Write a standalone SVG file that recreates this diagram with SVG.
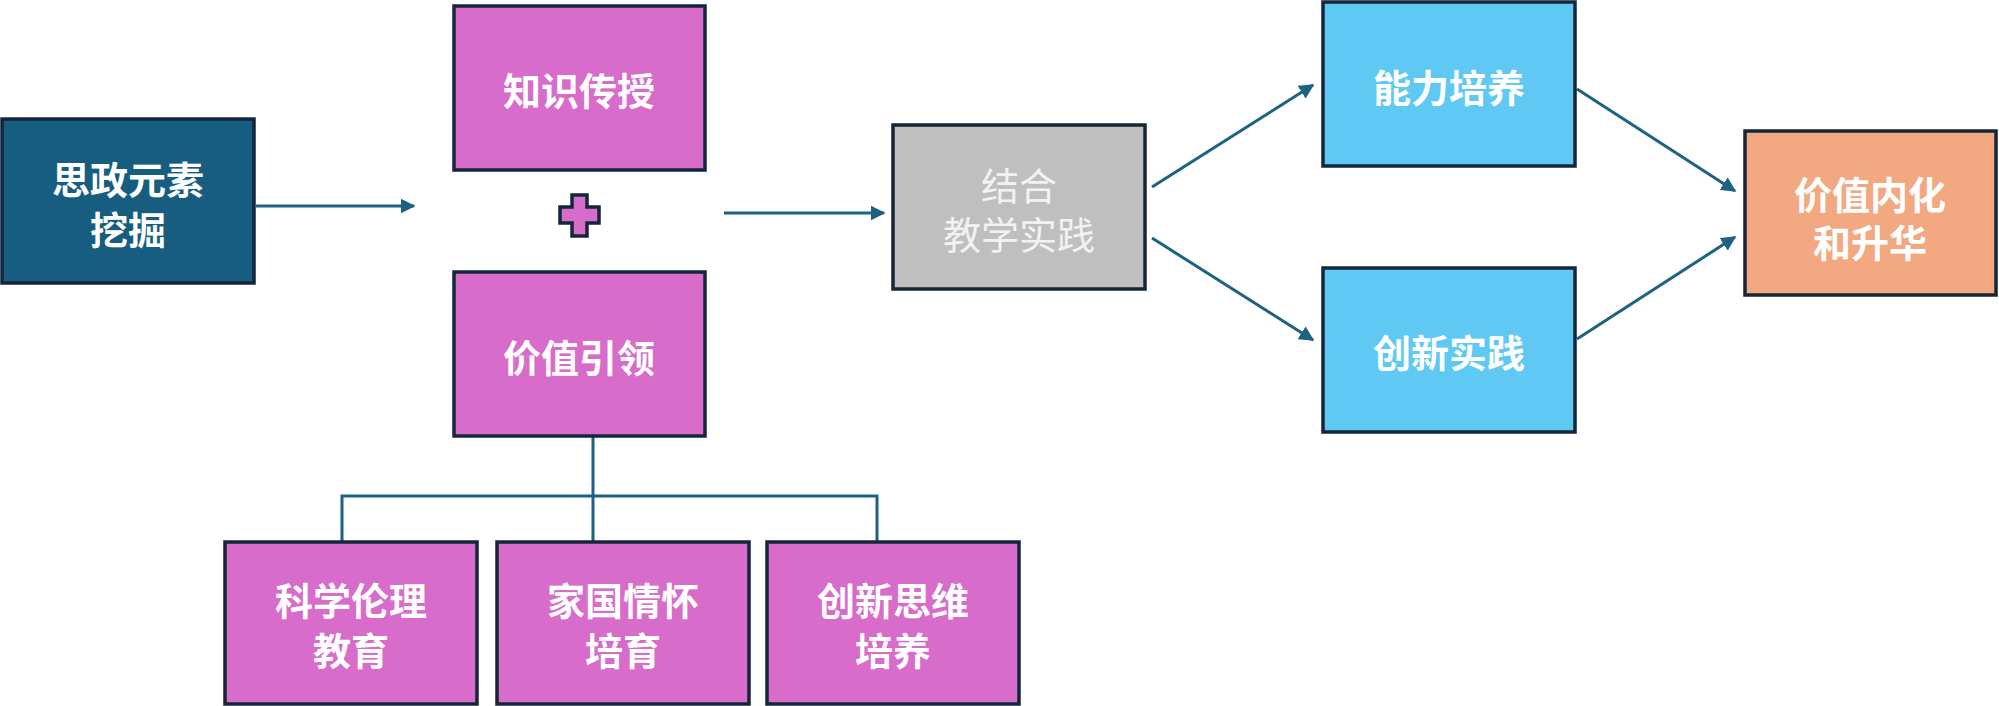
<svg xmlns="http://www.w3.org/2000/svg" width="1999" height="706" viewBox="0 0 1999 706">
<defs>
<style>
.box{stroke:#13263a;stroke-width:3.5}
.t{font-family:"Noto Sans CJK SC","Noto Sans",sans-serif;font-size:38px;font-weight:bold;fill:#ffffff;text-anchor:middle;dominant-baseline:central}
.tl{font-weight:normal;fill:#f2f2f2}
.c{stroke:#1d6283;stroke-width:3;fill:none}
.purple{fill:#d76ccb}
.blue{fill:#60c9f3}
</style>
<marker id="ah" viewBox="0 0 10 10" refX="9" refY="5" markerWidth="5" markerHeight="5" orient="auto" markerUnits="strokeWidth">
<path d="M0,0 L10,5 L0,10 z" fill="#1d6283"/>
</marker>
</defs>
<rect width="1999" height="706" fill="#ffffff"/>
<g id="connectors">
<line class="c" x1="256" y1="206" x2="414" y2="206" marker-end="url(#ah)"/>
<line class="c" x1="724" y1="213" x2="884" y2="213" marker-end="url(#ah)"/>
<line class="c" x1="1152" y1="187" x2="1313" y2="85" marker-end="url(#ah)"/>
<line class="c" x1="1152" y1="238" x2="1313" y2="340" marker-end="url(#ah)"/>
<line class="c" x1="1577" y1="89" x2="1735" y2="191" marker-end="url(#ah)"/>
<line class="c" x1="1577" y1="339" x2="1735" y2="237" marker-end="url(#ah)"/>
<path class="c" d="M593,437 V541 M342,541 V496 H877 V541"/>
</g>
<g id="n-sizheng">
<rect class="box" x="2" y="119" width="252" height="164" fill="#175d7f"/>
<text class="t" x="128" y="177">思政元素</text>
<text class="t" x="128" y="227">挖掘</text>
</g>
<g id="n-zhishi">
<rect class="box purple" x="454" y="6" width="251" height="164"/>
<text class="t" x="579" y="88">知识传授</text>
</g>
<g id="n-plus">
<path class="purple" stroke="#13263a" stroke-width="3.5" d="M572,195 H587 V207 H599 V223 H587 V236 H572 V223 H560 V207 H572 Z"/>
</g>
<g id="n-jiazhi">
<rect class="box purple" x="454" y="272" width="251" height="164"/>
<text class="t" x="579" y="355">价值引领</text>
</g>
<g id="n-kexue">
<rect class="box purple" x="225" y="542" width="252" height="162"/>
<text class="t" x="351" y="598">科学伦理</text>
<text class="t" x="351" y="648">教育</text>
</g>
<g id="n-jiaguo">
<rect class="box purple" x="497" y="542" width="252" height="162"/>
<text class="t" x="623" y="598">家国情怀</text>
<text class="t" x="623" y="648">培育</text>
</g>
<g id="n-chuangxin-siwei">
<rect class="box purple" x="767" y="542" width="252" height="162"/>
<text class="t" x="893" y="598">创新思维</text>
<text class="t" x="893" y="648">培养</text>
</g>
<g id="n-jiehe">
<rect class="box" x="893" y="125" width="252" height="164" fill="#bfbfbf"/>
<text class="t tl" x="1019" y="183">结合</text>
<text class="t tl" x="1019" y="232">教学实践</text>
</g>
<g id="n-nengli">
<rect class="box blue" x="1323" y="2" width="252" height="164"/>
<text class="t" x="1449" y="85">能力培养</text>
</g>
<g id="n-chuangxin-shijian">
<rect class="box blue" x="1323" y="268" width="252" height="164"/>
<text class="t" x="1449" y="350">创新实践</text>
</g>
<g id="n-neihua">
<rect class="box" x="1745" y="131" width="251" height="164" fill="#f2a982"/>
<text class="t" x="1870" y="192">价值内化</text>
<text class="t" x="1870" y="240">和升华</text>
</g>
</svg>
